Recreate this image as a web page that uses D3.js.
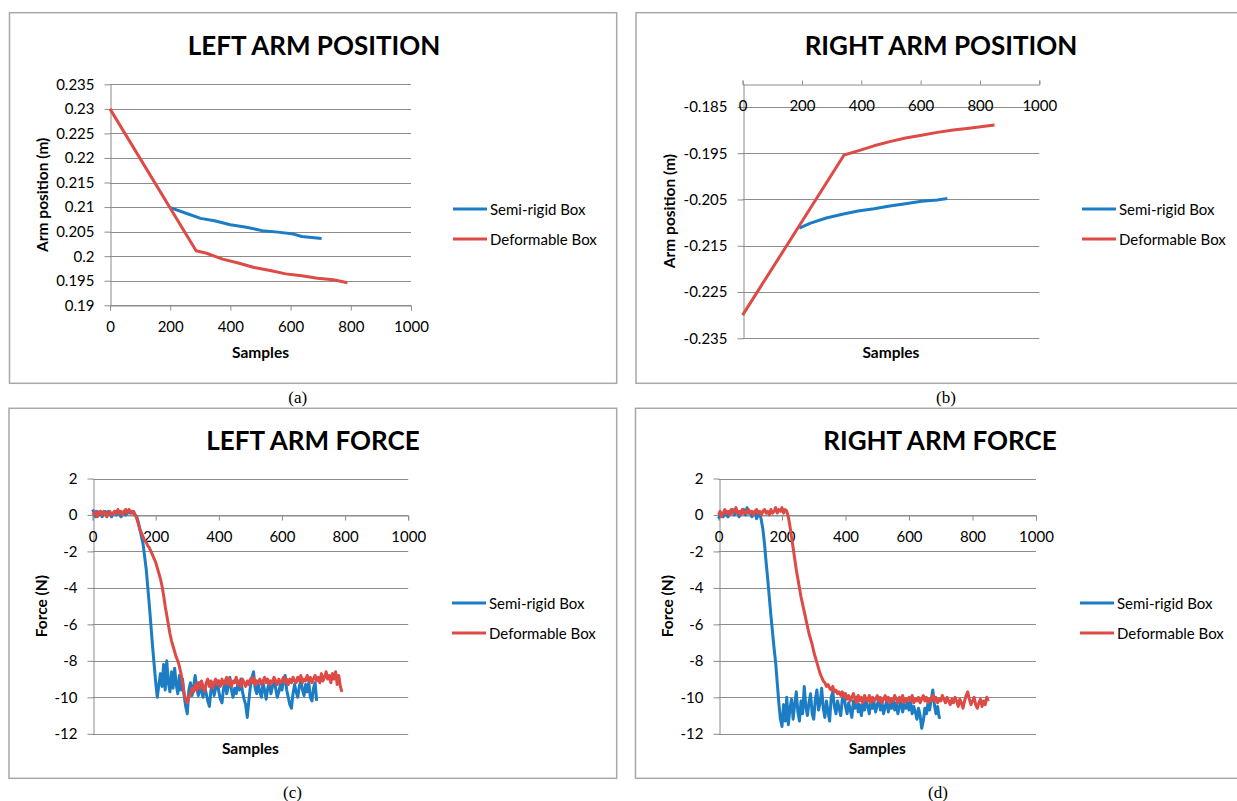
<!DOCTYPE html>
<html lang="en">
<head>
<meta charset="UTF-8" />
<script src="https://d3js.org/d3.v7.min.js"></script>
<style>
  body { margin: 0; background: #fff; }
  svg text { fill: #000; }
</style>
</head>
<body>
<svg id="fig" width="1237" height="801"></svg>
<script>
const seriesNames = ["Semi-rigid Box", "Deformable Box"];
const seriesColors = ["#1c7cc4", "#de4a45"];
const sampleTicks = [0, 200, 400, 600, 800, 1000];
const leftPosTicks = [0.19, 0.195, 0.2, 0.205, 0.21, 0.215, 0.22, 0.225, 0.23, 0.235];
const rightPosTicks = [-0.235, -0.225, -0.215, -0.205, -0.195, -0.185];
const forceTicks = [2, 0, -2, -4, -6, -8, -10, -12];

// (a) left arm position, [sample, metres]
const leftPosSemi = [[200,0.2099],[255,0.2087],[301,0.2077],[347,0.2072],[400,0.2064],[453,0.2059],
  [505,0.2052],[558,0.2049],[610,0.2045],[637,0.2040],[703,0.2036]];
const leftPosDeform = [[0,0.2300],[286,0.2011],[321,0.2006],[374,0.1994],[426,0.1986],[479,0.1977],
  [532,0.1971],[584,0.1964],[637,0.1960],[689,0.1955],[742,0.1952],[789,0.1946]];

// (b) right arm position
const rightPosSemi = [[191,-0.2112],[229,-0.2101],[282,-0.2090],[336,-0.2082],[389,-0.2075],[443,-0.2070],
  [496,-0.2064],[549,-0.2059],[603,-0.2054],[656,-0.2051],[690,-0.2048]];
const rightPosDeform = [[0,-0.2300],[342,-0.1954],[389,-0.1945],[443,-0.1934],[496,-0.1925],[549,-0.1917],
  [603,-0.1911],[656,-0.1905],[710,-0.1900],[763,-0.1896],[849,-0.1889]];

// force readings (N), one value every 5 samples starting at sample 0
const forceStep = 5;
const leftForceSemi = [
  0.3,0.1,-0.1,0.2,0.0,0.2,-0.1,0.1,0.2,0.0,0.2,0.1,-0.1,0.1,0.2,0.0,0.2,0.1,-0.1,0.1,
  0.2,0.0,0.1,0.2,0.1,0.2,0.1,0.0,-0.1,-0.4,-0.8,-1.2,-1.6,-2.3,-3.0,-4.0,-5.0,-6.1,-7.2,-8.2,
  -9.2,-10.0,-9.3,-8.7,-9.4,-8.2,-9.6,-8.0,-9.2,-9.7,-8.6,-9.5,-8.4,-9.3,-9.8,-8.8,-9.6,-9.0,-9.9,-10.5,
  -10.9,-9.6,-9.2,-9.9,-9.4,-8.8,-9.5,-9.9,-9.2,-9.7,-10.0,-9.4,-9.8,-10.2,-10.5,-9.6,-9.2,-9.9,-9.5,-9.1,
  -9.7,-10.1,-10.3,-9.5,-9.2,-9.8,-9.4,-8.9,-9.6,-10.0,-9.5,-9.8,-9.3,-9.6,-9.0,-9.7,-10.1,-10.4,-11.1,-10.2,
  -9.4,-8.9,-8.6,-9.5,-9.8,-9.3,-9.7,-10.0,-9.2,-9.6,-10.1,-9.5,-9.2,-9.8,-9.4,-9.0,-9.5,-10.0,-9.7,-9.3,
  -9.6,-9.1,-8.8,-9.6,-10.0,-10.4,-10.6,-9.8,-9.3,-9.7,-10.0,-9.4,-9.1,-9.6,-9.9,-9.3,-9.7,-9.2,-10.0,-10.2,
  -9.5,-9.2,-10.2];
const leftForceDeform = [
  0.0,0.1,0.2,-0.1,0.1,0.2,0.0,0.2,0.1,-0.1,0.1,0.2,0.0,0.1,0.2,0.1,0.3,0.1,0.2,0.0,
  0.2,0.3,0.1,0.3,0.2,0.1,0.2,0.0,-0.2,-0.5,-0.8,-1.0,-1.2,-1.4,-1.5,-1.7,-1.8,-2.0,-2.2,-2.4,
  -2.6,-2.9,-3.2,-3.5,-3.9,-4.4,-5.0,-5.5,-6.0,-6.5,-6.9,-7.2,-7.5,-7.8,-8.0,-8.3,-8.7,-9.2,-9.8,-10.1,
  -10.3,-10.0,-9.8,-9.5,-9.7,-9.3,-9.6,-9.2,-9.5,-9.1,-9.4,-9.7,-9.2,-9.0,-9.4,-9.1,-9.5,-9.2,-9.0,-9.3,
  -9.1,-9.4,-9.0,-9.3,-9.1,-8.9,-9.3,-9.0,-9.4,-9.1,-9.2,-8.9,-9.3,-9.1,-9.4,-9.0,-9.2,-9.4,-9.1,-9.3,
  -9.0,-9.2,-8.9,-9.3,-9.1,-9.2,-9.0,-9.3,-9.1,-8.9,-9.2,-9.0,-9.3,-9.1,-9.2,-8.9,-9.1,-9.3,-9.0,-9.2,
  -9.1,-8.9,-9.2,-9.0,-9.3,-9.0,-9.2,-8.9,-9.1,-9.2,-8.9,-9.1,-8.8,-9.2,-9.0,-9.1,-8.8,-9.1,-8.9,-9.2,
  -9.0,-8.8,-9.1,-8.9,-9.2,-8.7,-9.1,-8.9,-8.6,-9.0,-8.8,-9.2,-8.7,-9.0,-8.6,-9.3,-8.8,-9.4,-9.7];
const rightForceSemi = [
  -0.2,0.0,0.1,-0.1,0.2,0.0,-0.1,0.2,0.1,0.3,0.0,0.2,0.1,-0.1,0.2,0.1,0.3,0.0,0.4,0.1,
  0.2,-0.1,0.1,0.2,-0.2,0.0,0.1,-0.3,-0.8,-1.6,-2.6,-3.5,-4.5,-5.5,-6.4,-7.3,-8.1,-9.2,-10.3,-11.2,
  -11.6,-10.4,-11.3,-10.0,-11.5,-10.6,-10.1,-11.2,-10.4,-9.7,-10.8,-11.3,-10.2,-10.9,-9.4,-10.5,-11.0,-10.3,-9.8,-10.9,
  -11.2,-10.1,-9.6,-10.7,-10.3,-9.5,-10.6,-11.1,-10.2,-10.8,-11.3,-10.0,-9.7,-10.5,-10.9,-10.2,-10.6,-11.0,-10.1,-9.8,
  -10.5,-10.9,-10.3,-10.7,-11.1,-10.2,-10.6,-10.0,-10.8,-10.4,-11.0,-10.3,-10.7,-10.1,-10.5,-10.9,-10.2,-10.6,-10.3,-10.8,
  -10.4,-10.1,-10.7,-10.3,-10.9,-10.5,-10.2,-10.8,-10.4,-10.6,-10.1,-10.7,-10.3,-10.9,-10.5,-10.2,-10.8,-10.4,-10.6,-10.3,
  -10.7,-10.2,-10.9,-10.5,-10.8,-11.2,-10.6,-11.0,-11.7,-11.3,-10.6,-10.9,-10.3,-10.7,-10.1,-9.6,-10.4,-10.9,-10.5,-11.1,
  -11.1];
const rightForceDeform = [
  0.0,0.2,-0.1,0.1,0.3,0.1,0.2,0.0,0.3,0.1,0.2,0.4,0.1,0.2,0.0,0.3,0.1,0.2,0.1,0.3,
  0.1,0.2,0.0,0.2,0.3,0.1,0.2,0.0,0.2,0.3,0.1,0.2,0.0,0.3,0.1,0.2,0.4,0.1,0.3,0.2,
  0.4,0.1,0.3,0.2,-0.1,-0.6,-1.2,-1.8,-2.4,-3.0,-3.5,-4.0,-4.5,-4.9,-5.3,-5.7,-6.1,-6.5,-6.8,-7.1,
  -7.5,-7.8,-8.1,-8.4,-8.7,-8.9,-9.1,-9.2,-9.4,-9.3,-9.5,-9.6,-9.4,-9.7,-9.6,-9.8,-9.7,-9.9,-9.7,-10.0,
  -9.8,-10.1,-9.9,-10.2,-10.0,-9.8,-10.1,-10.3,-9.9,-10.2,-10.0,-10.3,-9.9,-10.1,-10.2,-9.9,-10.3,-10.0,-10.2,-10.1,
  -9.9,-10.2,-10.0,-10.3,-10.1,-9.9,-10.2,-10.0,-10.3,-10.1,-10.2,-9.9,-10.1,-10.3,-10.0,-10.2,-9.9,-10.3,-10.1,-10.2,
  -10.0,-10.2,-9.9,-10.3,-10.1,-10.2,-10.0,-10.3,-10.1,-9.9,-10.2,-10.0,-10.3,-10.1,-10.2,-9.9,-10.2,-10.0,-10.3,-10.1,
  -10.2,-9.9,-10.1,-10.3,-10.0,-10.2,-10.4,-10.1,-10.3,-10.0,-10.2,-10.5,-10.1,-10.3,-10.6,-10.2,-9.9,-9.7,-10.1,-10.4,
  -10.2,-10.0,-10.4,-10.6,-10.3,-10.1,-10.5,-10.2,-10.4,-10.0,-10.2];

const toPairs = vals => vals.map((v, i) => [i * forceStep, v]);
const fmt = d => String(+d.toFixed(3));
const sans = "Lato, 'Open Sans', sans-serif";

const panels = [
  { box: [9.5, 12.7, 607.2, 370.6], xr: [110, 411], yd: [0.19, 0.235], yr: [305.3, 84.3],
    yTicks: leftPosTicks, axisAt: 0.19, tickUp: false, title: "LEFT ARM POSITION", tx: 314, ty: 45,
    yTitle: "Arm position (m)", ytx: 42, legX: 453, legY: 209, caption: "(a)", cx: 297.7, cy: 397,
    samplesY: 352, series: [leftPosSemi, leftPosDeform] },
  { box: [636, 12.7, 610, 370.6], xr: [742.6, 1039.3], yd: [-0.235, -0.18], yr: [338.3, 83.8],
    yTicks: rightPosTicks, axisAt: -0.18, tickUp: true, title: "RIGHT ARM POSITION", tx: 941, ty: 45,
    yTitle: "Arm position (m)", ytx: 669, legX: 1082, legY: 209, caption: "(b)", cx: 946, cy: 397,
    samplesY: 352, series: [rightPosSemi, rightPosDeform] },
  { box: [9, 408.3, 607.7, 370], xr: [92.6, 408.2], yd: [-12, 2], yr: [733.8, 478.5],
    yTicks: forceTicks, axisAt: 0, tickUp: false, title: "LEFT ARM FORCE", tx: 313, ty: 440,
    yTitle: "Force (N)", ytx: 41, legX: 452, legY: 603, caption: "(c)", cx: 292.5, cy: 792,
    samplesY: 747.5, series: [toPairs(leftForceSemi), toPairs(leftForceDeform)] },
  { box: [635.5, 408.3, 610, 370], xr: [718.5, 1036], yd: [-12, 2], yr: [733.8, 478.5],
    yTicks: forceTicks, axisAt: 0, tickUp: false, title: "RIGHT ARM FORCE", tx: 940, ty: 440,
    yTitle: "Force (N)", ytx: 667, legX: 1080, legY: 603, caption: "(d)", cx: 938, cy: 792,
    samplesY: 747.5, series: [toPairs(rightForceSemi), toPairs(rightForceDeform)] }
];

const svg = d3.select("#fig");
const gridColor = "#8c8c8c";

function styleAxis(sel) {
  sel.select(".domain").attr("stroke", gridColor);
  sel.selectAll(".tick line").attr("stroke", gridColor);
  sel.selectAll("text").style("font-family", sans).style("font-size", "15px").attr("fill", "#000");
}

function drawPanel(p) {
  const g = svg.append("g");
  g.append("rect")
    .attr("x", p.box[0]).attr("y", p.box[1]).attr("width", p.box[2]).attr("height", p.box[3])
    .attr("fill", "none").attr("stroke", "#a8a8a8").attr("stroke-width", 1.5);

  const x = d3.scaleLinear().domain([0, 1000]).range(p.xr);
  const y = d3.scaleLinear().domain(p.yd).range(p.yr);

  // horizontal gridlines
  g.append("g").selectAll("line").data(p.yTicks).join("line")
    .attr("x1", p.xr[0]).attr("x2", p.xr[1])
    .attr("y1", d => Math.round(y(d)) + 0.5).attr("y2", d => Math.round(y(d)) + 0.5)
    .attr("stroke", gridColor).attr("stroke-width", 1);

  // y axis
  g.append("g").attr("transform", `translate(${Math.round(p.xr[0]) + 0.5},0)`)
    .call(d3.axisLeft(y).tickValues(p.yTicks).tickFormat(fmt).tickSize(6).tickPadding(10).tickSizeOuter(0))
    .call(styleAxis);

  // x axis
  const xAxis = d3.axisBottom(x).tickValues(sampleTicks).tickFormat(d3.format("d")).tickSizeOuter(0)
    .tickSize(p.tickUp ? -4 : 5).tickPadding(p.tickUp ? 16 : 11);
  g.append("g").attr("transform", `translate(0,${Math.round(y(p.axisAt)) + 0.5})`)
    .call(xAxis).call(styleAxis);

  // series
  const line = d3.line().x(d => x(d[0])).y(d => y(d[1]));
  p.series.forEach((s, i) => {
    g.append("path").datum(s).attr("d", line)
      .attr("fill", "none").attr("stroke", seriesColors[i]).attr("stroke-width", 3)
      .attr("stroke-linejoin", "round");
  });

  // titles
  g.append("text").attr("x", p.tx).attr("y", p.ty).attr("text-anchor", "middle")
    .attr("dominant-baseline", "central").style("font-family", sans)
    .style("font-size", "26px").style("font-weight", "bold").text(p.title);
  g.append("text").attr("x", (p.xr[0] + p.xr[1]) / 2).attr("y", p.samplesY)
    .attr("text-anchor", "middle").attr("dominant-baseline", "central").style("font-family", sans)
    .style("font-size", "15.5px").style("font-weight", "bold").text("Samples");
  const yMid = (p.yr[0] + p.yr[1]) / 2;
  g.append("text").attr("transform", `translate(${p.ytx},${yMid}) rotate(-90)`)
    .attr("text-anchor", "middle").attr("dominant-baseline", "central").style("font-family", sans)
    .style("font-size", "15.5px").style("font-weight", "bold").text(p.yTitle);

  // legend
  seriesNames.forEach((name, i) => {
    const ly = p.legY + i * 30;
    g.append("line").attr("x1", p.legX).attr("x2", p.legX + 34).attr("y1", ly).attr("y2", ly)
      .attr("stroke", seriesColors[i]).attr("stroke-width", 3);
    g.append("text").attr("x", p.legX + 37).attr("y", ly).attr("dominant-baseline", "central")
      .style("font-family", sans).style("font-size", "15px").text(name);
  });

  // caption under the frame
  svg.append("text").attr("x", p.cx).attr("y", p.cy).attr("text-anchor", "middle")
    .attr("dominant-baseline", "central").style("font-family", "'Liberation Serif', serif")
    .style("font-size", "17px").text(p.caption);
}

panels.forEach(drawPanel);
</script>
</body>
</html>
